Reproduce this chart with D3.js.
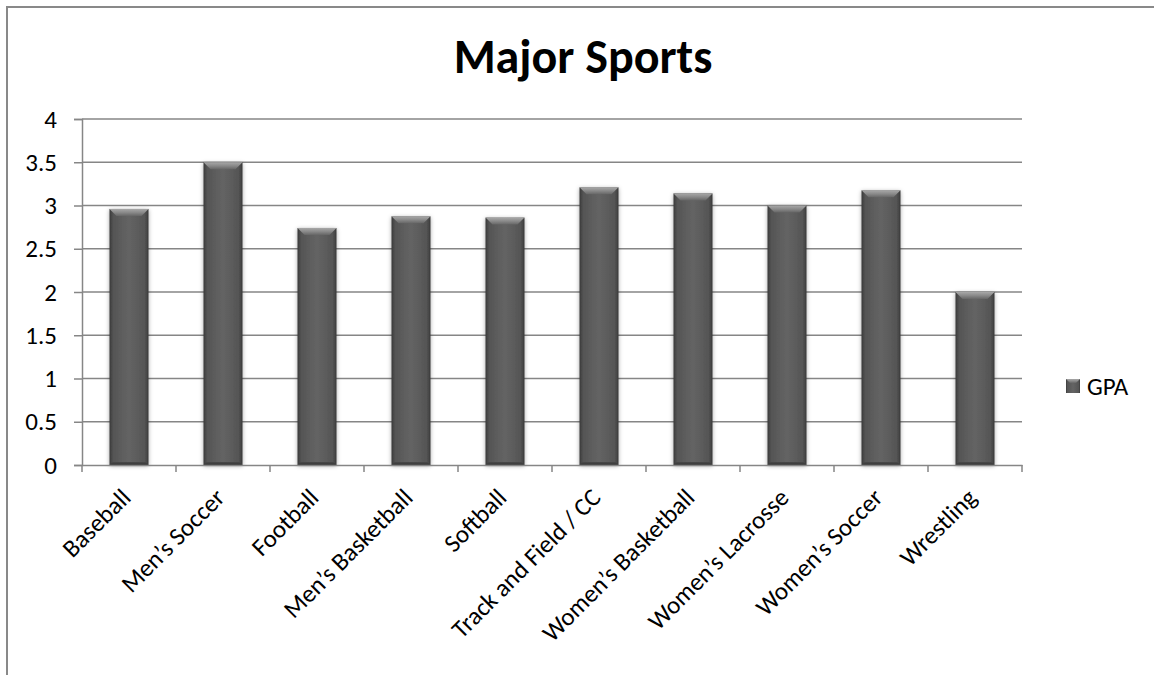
<!DOCTYPE html>
<html>
<head>
<meta charset="utf-8">
<script src="https://cdn.jsdelivr.net/npm/d3@7"></script>
<style>
  html, body { margin: 0; padding: 0; background: #fff; }
  svg { display: block; font-family: Carlito, Calibri, Lato, sans-serif; }
</style>
</head>
<body>
<svg id="chart" width="1154" height="675"></svg>
<script>
// GPA by sport
const sports = ["Baseball", "Men\u2019s Soccer", "Football", "Men\u2019s Basketball", "Softball",
  "Track and Field / CC", "Women\u2019s Basketball", "Women\u2019s Lacrosse", "Women\u2019s Soccer", "Wrestling"];
const gpa = [2.96, 3.5, 2.74, 2.875, 2.86, 3.21, 3.14, 3.0, 3.175, 2.0];
const yTicks = [0, 0.5, 1, 1.5, 2, 2.5, 3, 3.5, 4];
const seriesName = "GPA";
const title = "Major Sports";

const svg = d3.select("#chart");
const W = 1154, H = 675;
const plot = { left: 82, right: 1022, top: 119, bottom: 465 };
const labelSize = 25;

// chart frame
svg.append("rect")
  .attr("x", 7).attr("y", 7)
  .attr("width", W + 20).attr("height", H + 20)
  .attr("fill", "#fff").attr("stroke", "#898989").attr("stroke-width", 2);

const defs = svg.append("defs");
const body = defs.append("linearGradient").attr("id", "barBody").attr("x1", 0).attr("x2", 1).attr("y1", 0).attr("y2", 0);
[[0, "#3a3a3a"], [0.1, "#555"], [0.5, "#646464"], [0.9, "#555"], [1, "#3a3a3a"]]
  .forEach(([o, c]) => body.append("stop").attr("offset", o).attr("stop-color", c));
const bevel = defs.append("linearGradient").attr("id", "barBevel").attr("x1", 0).attr("x2", 0).attr("y1", 0).attr("y2", 1);
[[0, "#a8a8a8"], [0.5, "#8a8a8a"], [1, "#666"]]
  .forEach(([o, c]) => bevel.append("stop").attr("offset", o).attr("stop-color", c));
const bottomShade = defs.append("linearGradient").attr("id", "barBottom").attr("x1", 0).attr("x2", 0).attr("y1", 0).attr("y2", 1);
[[0, "#4a4a4a"], [1, "#333"]]
  .forEach(([o, c]) => bottomShade.append("stop").attr("offset", o).attr("stop-color", c));
const shadow = defs.append("filter").attr("id", "barShadow")
  .attr("x", "-30%").attr("y", "-10%").attr("width", "160%").attr("height", "120%");
shadow.append("feDropShadow").attr("dx", 0).attr("dy", 1).attr("stdDeviation", 2.2)
  .attr("flood-color", "#000").attr("flood-opacity", 0.35);

const x = d3.scaleBand().domain(sports).range([plot.left, plot.right]).padding(0);
const y = d3.scaleLinear().domain([0, 4]).range([plot.bottom, plot.top]);

// horizontal gridlines
svg.append("g").selectAll("line").data(yTicks.filter(t => t > 0)).join("line")
  .attr("x1", plot.left).attr("x2", plot.right)
  .attr("y1", d => y(d)).attr("y2", d => y(d))
  .attr("stroke", "#868686").attr("stroke-width", 1.5);

// y axis
const yAxis = svg.append("g").attr("transform", `translate(${plot.left},0)`)
  .call(d3.axisLeft(y).tickValues(yTicks).tickSize(8).tickPadding(17).tickFormat(d3.format("")));
yAxis.select(".domain").attr("stroke", "#868686").attr("stroke-width", 1.5);
yAxis.selectAll(".tick line").attr("stroke", "#868686").attr("stroke-width", 1.5);
yAxis.selectAll("text").attr("font-size", labelSize).attr("fill", "#000")
  .attr("font-family", "Carlito, Calibri, Lato, sans-serif");

// bars
const barW = 39;
const bars = svg.append("g").selectAll("g.bar").data(sports.map((s, i) => ({ s, v: gpa[i] })))
  .join("g").attr("class", "bar");
bars.append("rect")
  .attr("x", d => x(d.s) + x.bandwidth() / 2 - barW / 2)
  .attr("y", d => y(d.v))
  .attr("width", barW)
  .attr("height", d => y(0) - y(d.v))
  .attr("fill", "url(#barBody)")
  .attr("filter", "url(#barShadow)");
const bev = 7;
bars.append("path")
  .attr("d", d => {
    const x0 = x(d.s) + x.bandwidth() / 2 - barW / 2, x1 = x0 + barW, t = y(d.v);
    return `M${x0},${t}L${x1},${t}L${x1 - bev},${t + bev}L${x0 + bev},${t + bev}Z`;
  })
  .attr("fill", "url(#barBevel)");
bars.append("path")
  .attr("d", d => {
    const x0 = x(d.s) + x.bandwidth() / 2 - barW / 2, x1 = x0 + barW, b = y(0);
    return `M${x0},${b}L${x1},${b}L${x1 - 3},${b - 3}L${x0 + 3},${b - 3}Z`;
  })
  .attr("fill", "url(#barBottom)");

// x axis
const xAxis = svg.append("g").attr("transform", `translate(0,${plot.bottom})`)
  .call(d3.axisBottom(x).tickSize(0).tickFormat(""));
xAxis.select(".domain").attr("stroke", "#868686").attr("stroke-width", 1.5);
svg.append("g").selectAll("line")
  .data(d3.range(sports.length + 1).map(i => plot.left + i * x.step()))
  .join("line")
  .attr("x1", d => d).attr("x2", d => d)
  .attr("y1", plot.bottom).attr("y2", plot.bottom + 7)
  .attr("stroke", "#868686").attr("stroke-width", 1.5);

svg.append("g").selectAll("text").data(sports).join("text")
  .attr("transform", d => `translate(${x(d) + x.bandwidth() / 2 - 3},${plot.bottom + 28}) rotate(-45)`)
  .attr("text-anchor", "end")
  .attr("dy", "0.35em")
  .attr("font-size", labelSize)
  .text(d => d);

// title
svg.append("text")
  .attr("x", 583).attr("y", 73)
  .attr("text-anchor", "middle")
  .attr("font-size", 48)
  .attr("font-weight", "bold")
  .text(title);

// legend
const lg = svg.append("g").attr("transform", "translate(1066,379)");
lg.append("rect").attr("width", 14).attr("height", 14).attr("fill", "url(#barBody)");
lg.append("path").attr("d", "M0,0L14,0L10,4L4,4Z").attr("fill", "url(#barBevel)");
lg.append("text").attr("x", 21).attr("y", 7).attr("dy", "0.35em")
  .attr("font-size", labelSize).text(seriesName);
</script>
</body>
</html>
